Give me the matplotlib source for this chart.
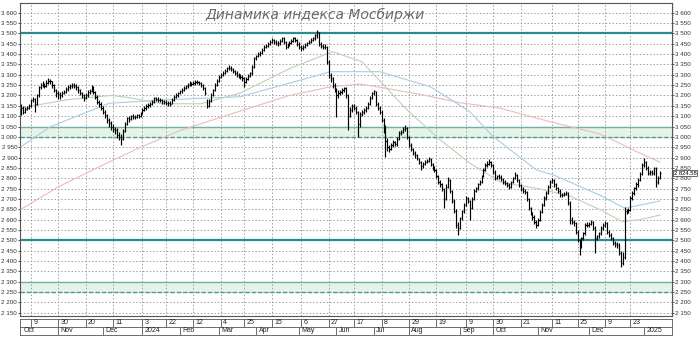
import numpy as np
import matplotlib
matplotlib.use("Agg")
import matplotlib.pyplot as plt
from matplotlib.collections import LineCollection

# daily bars, Oct 2023 - Jan 2025
close = [3140, 3120, 3135, 3140, 3150, 3178, 3185, 3160, 3200, 3240,
         3250, 3255, 3245, 3262, 3270, 3268, 3250, 3226, 3210, 3205,
         3202, 3212, 3218, 3230, 3240, 3245, 3250, 3248, 3242, 3225,
         3210, 3202, 3190, 3200, 3215, 3220, 3240, 3215, 3195, 3170,
         3160, 3140, 3122, 3105, 3080, 3065, 3050, 3040, 3033, 3010,
         3000, 2990, 3030, 3060, 3090, 3085, 3100, 3095, 3097, 3105,
         3100, 3115, 3130, 3140, 3150, 3154, 3160, 3170, 3186, 3185,
         3180, 3178, 3172, 3168, 3165, 3162, 3160, 3180, 3194, 3200,
         3210, 3220, 3226, 3235, 3245, 3250, 3259, 3255, 3262, 3265,
         3267, 3260, 3250, 3235, 3210, 3150, 3175, 3202, 3225, 3250,
         3270, 3290, 3299, 3310, 3320, 3331, 3335, 3330, 3320, 3310,
         3300, 3295, 3290, 3283, 3265, 3280, 3295, 3307, 3340, 3380,
         3390, 3400, 3404, 3420, 3436, 3440, 3450, 3460, 3468, 3460,
         3455, 3452, 3465, 3476, 3460, 3436, 3445, 3455, 3465, 3476,
         3470, 3450, 3435, 3428, 3435, 3445, 3452, 3460, 3470, 3476,
         3490, 3505, 3450, 3440, 3436, 3436, 3360, 3300, 3283, 3250,
         3226, 3200, 3210, 3215, 3225, 3235, 3200, 3100, 3130, 3150,
         3140, 3120, 3060, 3110, 3120, 3130, 3140, 3160, 3190, 3210,
         3220, 3160, 3140, 3120, 3080, 3050, 2980, 2950, 2940, 2960,
         2975, 2965, 2990, 3020, 3025, 3040, 3045, 3000, 2960, 2940,
         2920, 2910, 2896, 2880, 2860, 2870, 2880, 2885, 2895, 2870,
         2850, 2840, 2810, 2783, 2770, 2750, 2700, 2760, 2790, 2740,
         2690, 2640, 2575, 2560, 2606, 2640, 2670, 2703, 2690, 2655,
         2700, 2740, 2751, 2770, 2783, 2810, 2840, 2864, 2870, 2880,
         2864, 2830, 2800, 2810, 2808, 2795, 2780, 2775, 2768, 2759,
         2780, 2800, 2815, 2790, 2767, 2750, 2740, 2735, 2700, 2655,
         2630, 2614, 2590, 2574, 2600, 2638, 2670, 2703, 2730, 2760,
         2783, 2790, 2770, 2751, 2740, 2719, 2720, 2725, 2727, 2680,
         2600, 2590, 2582, 2540, 2500, 2470, 2510, 2534, 2574, 2575,
         2580, 2590, 2560, 2510, 2520, 2534, 2560, 2574, 2585, 2540,
         2526, 2510, 2486, 2480, 2477, 2440, 2389, 2420, 2640, 2638,
         2645, 2703, 2730, 2751, 2770, 2791, 2820, 2864, 2880, 2850,
         2824, 2830, 2824, 2848, 2780, 2800, 2824.58]

high = [3160, 3148, 3142, 3150, 3158, 3185, 3195, 3188, 3208, 3248,
        3262, 3270, 3262, 3275, 3285, 3280, 3272, 3255, 3232, 3220,
        3215, 3222, 3228, 3240, 3250, 3255, 3260, 3258, 3255, 3248,
        3232, 3218, 3208, 3210, 3225, 3230, 3252, 3245, 3220, 3200,
        3178, 3168, 3148, 3130, 3112, 3090, 3075, 3060, 3050, 3042,
        3025, 3015, 3040, 3070, 3098, 3100, 3108, 3110, 3105, 3112,
        3112, 3122, 3138, 3148, 3158, 3165, 3170, 3180, 3195, 3195,
        3192, 3188, 3185, 3180, 3178, 3175, 3172, 3188, 3200, 3210,
        3218, 3228, 3235, 3245, 3252, 3258, 3268, 3265, 3270, 3275,
        3275, 3272, 3265, 3255, 3240, 3185, 3182, 3210, 3232, 3258,
        3278, 3298, 3308, 3318, 3328, 3340, 3345, 3342, 3335, 3325,
        3318, 3310, 3305, 3298, 3290, 3290, 3305, 3315, 3348, 3388,
        3398, 3408, 3415, 3428, 3445, 3450, 3458, 3468, 3478, 3475,
        3468, 3462, 3472, 3485, 3482, 3465, 3452, 3462, 3472, 3485,
        3485, 3475, 3458, 3445, 3442, 3452, 3460, 3468, 3478, 3485,
        3498, 3516, 3508, 3460, 3450, 3448, 3440, 3370, 3310, 3290,
        3258, 3235, 3225, 3228, 3235, 3242, 3240, 3205, 3142, 3160,
        3160, 3148, 3125, 3118, 3130, 3140, 3150, 3168, 3198, 3218,
        3226, 3222, 3168, 3148, 3128, 3090, 3055, 2995, 2960, 2970,
        2985, 2982, 3000, 3028, 3035, 3050, 3057, 3048, 3005, 2968,
        2945, 2930, 2915, 2900, 2885, 2878, 2888, 2895, 2905, 2900,
        2875, 2858, 2845, 2815, 2790, 2775, 2755, 2770, 2805, 2795,
        2745, 2700, 2650, 2590, 2612, 2648, 2678, 2712, 2708, 2695,
        2708, 2748, 2760, 2778, 2792, 2818, 2848, 2872, 2882, 2895,
        2885, 2870, 2838, 2818, 2820, 2815, 2800, 2790, 2782, 2775,
        2788, 2808, 2830, 2820, 2795, 2772, 2758, 2748, 2740, 2705,
        2662, 2638, 2620, 2598, 2608, 2645, 2678, 2712, 2738, 2768,
        2792, 2800, 2795, 2778, 2760, 2748, 2730, 2735, 2738, 2732,
        2688, 2612, 2598, 2588, 2548, 2508, 2518, 2542, 2582, 2590,
        2590, 2600, 2595, 2568, 2528, 2542, 2568, 2582, 2595, 2590,
        2548, 2535, 2518, 2495, 2490, 2485, 2448, 2445, 2660, 2652,
        2655, 2712, 2740, 2760, 2780, 2800, 2830, 2875, 2896, 2885,
        2858, 2840, 2838, 2855, 2852, 2810, 2835]

low = [3105, 3110, 3115, 3128, 3135, 3145, 3170, 3120, 3155, 3195,
       3232, 3240, 3235, 3240, 3255, 3255, 3238, 3215, 3195, 3185,
       3185, 3195, 3205, 3212, 3222, 3232, 3235, 3238, 3228, 3210,
       3200, 3188, 3175, 3182, 3195, 3205, 3215, 3205, 3182, 3160,
       3145, 3130, 3110, 3090, 3068, 3050, 3035, 3025, 3015, 2995,
       2985, 2960, 2985, 3025, 3055, 3072, 3080, 3085, 3085, 3090,
       3090, 3095, 3110, 3125, 3132, 3140, 3145, 3155, 3165, 3175,
       3170, 3168, 3160, 3158, 3155, 3150, 3148, 3158, 3175, 3188,
       3195, 3205, 3212, 3220, 3230, 3238, 3245, 3245, 3250, 3252,
       3255, 3250, 3240, 3225, 3200, 3140, 3145, 3170, 3198, 3220,
       3245, 3265, 3285, 3292, 3305, 3315, 3322, 3320, 3310, 3300,
       3290, 3285, 3278, 3270, 3242, 3258, 3275, 3290, 3300, 3335,
       3370, 3385, 3392, 3400, 3415, 3428, 3435, 3445, 3452, 3450,
       3445, 3440, 3445, 3458, 3450, 3425, 3430, 3440, 3450, 3460,
       3460, 3440, 3425, 3415, 3420, 3430, 3438, 3448, 3455, 3462,
       3470, 3480, 3440, 3430, 3425, 3425, 3350, 3285, 3265, 3238,
       3215, 3095, 3190, 3200, 3208, 3218, 3190, 3033, 3095, 3120,
       3128, 3110, 3000, 3050, 3100, 3112, 3122, 3135, 3152, 3185,
       3200, 3150, 3130, 3110, 3070, 3020, 2905, 2930, 2925, 2935,
       2950, 2955, 2958, 2985, 3010, 3018, 3030, 2990, 2950, 2930,
       2910, 2898, 2888, 2870, 2840, 2850, 2862, 2872, 2878, 2860,
       2840, 2830, 2800, 2772, 2758, 2738, 2655, 2695, 2755, 2730,
       2680, 2630, 2560, 2526, 2555, 2600, 2632, 2665, 2680, 2598,
       2650, 2695, 2735, 2745, 2765, 2778, 2805, 2835, 2855, 2862,
       2855, 2822, 2790, 2795, 2798, 2785, 2770, 2765, 2758, 2748,
       2755, 2775, 2795, 2780, 2758, 2740, 2730, 2725, 2690, 2645,
       2620, 2600, 2580, 2560, 2568, 2595, 2630, 2665, 2695, 2722,
       2752, 2775, 2760, 2742, 2730, 2708, 2710, 2712, 2718, 2670,
       2580, 2578, 2570, 2530, 2490, 2429, 2462, 2500, 2528, 2562,
       2565, 2572, 2550, 2437, 2500, 2512, 2525, 2552, 2565, 2530,
       2515, 2500, 2475, 2470, 2465, 2430, 2370, 2380, 2410, 2625,
       2630, 2640, 2695, 2720, 2742, 2760, 2785, 2815, 2855, 2838,
       2815, 2818, 2815, 2818, 2759, 2770, 2795]

# moving averages as drawn on the chart (bar index -> value)
ma_slow_x = [0, 19, 40, 61, 81, 107, 137, 158, 173, 183, 204, 224, 244, 270, 295, 302, 316, 326]
ma_slow_y = [2650, 2758, 2856, 2950, 3030, 3110, 3200, 3242, 3255, 3240, 3205, 3165, 3140, 3073, 3015, 2985, 2920, 2878]
ma_mid_x = [0, 15, 45, 71, 112, 158, 183, 209, 229, 241, 263, 272, 295, 308, 326]
ma_mid_y = [2952, 3049, 3162, 3178, 3194, 3315, 3315, 3242, 3122, 3001, 2840, 2815, 2720, 2655, 2690]
ma_fast_x = [0, 24, 46, 55, 72, 92, 112, 137, 159, 174, 197, 214, 229, 245, 264, 280, 295, 307, 316, 326]
ma_fast_y = [3140, 3180, 3200, 3190, 3160, 3160, 3212, 3330, 3412, 3363, 3130, 2985, 2873, 2780, 2750, 2715, 2650, 2590, 2600, 2622]

levels = [3500, 2500]
zones = [(3000, 3050), (2250, 2300)]

day_labels = ['9', '30', '20', '11', '3', '22', '12', '4', '25', '15', '6', '27',
              '17', '8', '29', '19', '9', '30', '21', '11', '25', '9', '23']
day_pos = [5, 19, 33, 47, 62, 74, 88, 102, 114, 128, 143, 157,
           170, 184, 198, 212, 227, 241, 255, 271, 284, 298, 311]
month_labels = ['Oct', 'Nov', 'Dec', '2024', 'Feb', 'Mar', 'Apr', 'May', 'Jun', 'Jul',
                'Aug', 'Sep', 'Oct', 'Nov', 'Dec', '2025']
month_pos = [0, 19, 42, 62, 81, 101, 120, 142, 161, 180, 198, 224, 241, 264, 290, 318]

small = dict(family='Liberation Sans', size=4.5)

fig = plt.figure(figsize=(7, 3.38), dpi=100)
ax = fig.add_axes([20 / 700, 22.3 / 338, 652 / 700, 312.7 / 338])

xmin, xmax = -0.5, 332.2
ymin, ymax = 2135.6, 3647
ax.set_xlim(xmin, xmax)
ax.set_ylim(ymin, ymax)

grid_kw = dict(color='#a0a0a0', lw=0.7, ls=(0, (1.5, 2)), zorder=1)
for v in range(2150, 3601, 50):
    ax.axhline(v, **grid_kw)
for p in day_pos:
    ax.axvline(p, **grid_kw)

# support / resistance zones
for lo_, hi_ in zones:
    ax.axhspan(lo_, hi_, color='#e6f4e8', zorder=0)
    ax.axhline(hi_, color='#6fb0a8', lw=1.0, zorder=2)
    ax.axhline(lo_, color='#4a9a94', lw=1.0, ls=(0, (3, 1.5)), zorder=2)
for lv in levels:
    ax.axhline(lv, color='#2a8c8c', lw=1.6, zorder=2)

ax.plot(ma_slow_x, ma_slow_y, color='#e9bcbc', lw=0.8, zorder=3)
ax.plot(ma_mid_x, ma_mid_y, color='#a9cde3', lw=0.8, zorder=3)
ax.plot(ma_fast_x, ma_fast_y, color='#bcd3b5', lw=0.8, zorder=3)

# bars: high-low line and close tick
x = np.arange(len(close))
segs = [[(i, l), (i, h)] for i, l, h in zip(x, low, high)]
segs += [[(i, c), (i + 0.6, c)] for i, c in zip(x, close)]
ax.add_collection(LineCollection(segs, colors='black', linewidths=0.85, zorder=4))

yt = list(range(2150, 3601, 50))
ax.set_yticks(yt)
ax.set_yticklabels(['{:,}'.format(v).replace(',', ' ') for v in yt], fontdict=small)
ax.set_yticks(range(2140, 3641, 10), minor=True)
ax.tick_params(axis='y', which='major', direction='out', length=1.5, width=0.6,
               pad=0.5, left=True, right=True, labelleft=True, labelright=True,
               colors='#333333')
ax.tick_params(axis='y', which='minor', direction='out', length=1, width=0.4,
               left=False, right=True, colors='#555555')
ax.set_xticks([])
for s in ax.spines.values():
    s.set_color('#555555')
    s.set_linewidth(0.8)

ax.text(1.003, close[-1], '{:,.2f}'.format(close[-1]).replace(',', ' '),
        transform=ax.get_yaxis_transform(), fontdict=dict(family='Liberation Sans', size=4.2),
        va='center', ha='left',
        bbox=dict(boxstyle='square,pad=0.12', fc='white', ec='#333333', lw=0.5),
        zorder=10, clip_on=False)

fig.text(315 / 700, 1 - 15 / 338, 'Динамика индекса Мосбиржи', ha='center', va='center',
         fontsize=10, color='#6a6a6a', style='italic')

# date panel: day row on top, month row below
ax2 = fig.add_axes([20 / 700, 3 / 338, 652 / 700, 16 / 338])
ax2.set_xlim(xmin, xmax)
ax2.set_ylim(0, 2)
ax2.axhline(1, color='#555555', lw=0.6)
ax2.vlines(day_pos, 1, 2, color='#555555', lw=0.6)
ax2.vlines(month_pos[1:], 0, 1, color='#555555', lw=0.6)
for p, t in zip(day_pos, day_labels):
    ax2.text(p + 1.2, 1.5, t, fontdict=dict(family='Liberation Sans', size=5),
             va='center', ha='left', color='#222222')
for p, t in zip(month_pos, month_labels):
    ax2.text(p + 1.2, 0.5, t, fontdict=dict(family='Liberation Sans', size=5),
             va='center', ha='left', color='#222222')
ax2.set_xticks([])
ax2.set_yticks([])
for s in ax2.spines.values():
    s.set_color('#555555')
    s.set_linewidth(0.6)

fig.savefig('out.png', dpi=100)
